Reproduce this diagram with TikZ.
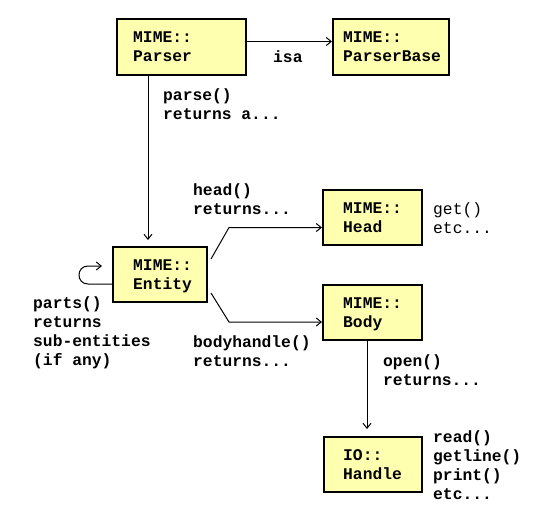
\documentclass[tikz,border=0pt]{standalone}
\usepackage{fontspec}
\newfontfamily\monofam{Liberation Mono}
\usetikzlibrary{arrows.meta}
\definecolor{boxfill}{RGB}{255,255,176}
\newcommand\mlines[1]{\begin{tabular}[t]{@{}l@{}}#1\end{tabular}}
\tikzset{
  box/.style={draw=black, line width=2pt, fill=boxfill, rectangle, inner sep=0pt},
  txt/.style={font=\monofam\bfseries\fontsize{16.3pt}{19pt}\selectfont, inner sep=0pt, anchor=base west},
  plain/.style={font=\monofam\fontsize{16.3pt}{19pt}\selectfont, inner sep=0pt, anchor=base west},
  conn/.style={line width=1pt, -{Straight Barb[length=5pt,width=8pt]}},
}
\begin{document}
\begin{tikzpicture}[x=1pt,y=-1pt]
\useasboundingbox (0,0) rectangle (540,520);
% boxes
\node[box, minimum width=129pt, minimum height=56pt] (parser) at (181.5,47) {};
\node[box, minimum width=116pt, minimum height=56pt] (parserbase) at (391,47) {};
\node[box, minimum width=94pt, minimum height=55pt] (entity) at (160,274.5) {};
\node[box, minimum width=99pt, minimum height=55pt] (head) at (372.5,217.5) {};
\node[box, minimum width=99pt, minimum height=55pt] (body) at (372.5,312.5) {};
\node[box, minimum width=98pt, minimum height=55pt] (io) at (373,464.5) {};
% box texts
\node[txt] (parsert) at (133,42) {\mlines{MIME::\\Parser}};
\node[txt] (parserbaset) at (343,42) {\mlines{MIME::\\ParserBase}};
\node[txt] (entityt) at (133,270) {\mlines{MIME::\\Entity}};
\node[txt] (headt) at (343,213) {\mlines{MIME::\\Head}};
\node[txt] (bodyt) at (343,308) {\mlines{MIME::\\Body}};
\node[txt] (iot) at (343,460) {\mlines{IO::\\Handle}};
% labels
\node[txt] (isa) at (273,62) {isa};
\node[txt] (parse) at (163,100) {\mlines{parse()\\returns a...}};
\node[txt] (headl) at (193,195) {\mlines{head()\\returns...}};
\node[txt] (bodyl) at (193,347) {\mlines{bodyhandle()\\returns...}};
\node[txt] (parts) at (33,308) {\mlines{parts()\\returns\\sub-entities\\(if any)}};
\node[plain] (getl) at (433,214) {\mlines{get()\\etc...}};
\node[txt] (openl) at (383,366) {\mlines{open()\\returns...}};
\node[txt] (readl) at (433,442) {\mlines{read()\\getline()\\print()\\etc...}};
% connectors
\draw[conn] ([yshift=5.5pt]parser.east) -- ([yshift=5.5pt]parserbase.west);
\draw[conn, shorten >=6pt] ([xshift=-33.5pt]parser.south) -- ([xshift=-12pt]entity.north);
\coordinate (hk) at (229,227.5);
\coordinate (bk) at (229,322);
\draw[conn] ([xshift=3pt,yshift=15.5pt]entity.east) -- (hk) -- ([yshift=-10pt]head.west);
\draw[conn] ([xshift=3pt,yshift=-18.5pt]entity.east) -- (bk) -- ([yshift=-9.5pt]body.west);
\coordinate (loopend) at (102,266);
\draw[conn] ([yshift=-9.5pt]entity.west) -- (88,284) .. controls (76,284) and (76,266) .. (88,266) -- (loopend);
\draw[conn, shorten >=7pt] ([xshift=-5.5pt]body.south) -- ([xshift=-6pt]io.north);
\end{tikzpicture}
\end{document}
